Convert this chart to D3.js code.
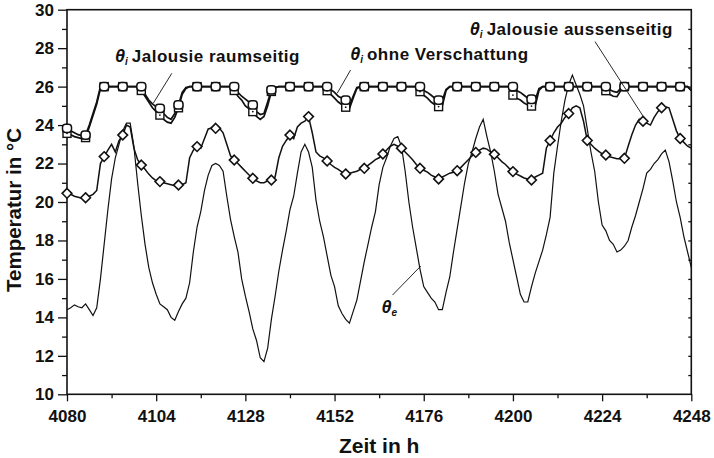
<!DOCTYPE html>
<html>
<head>
<meta charset="utf-8">
<script src="https://cdn.jsdelivr.net/npm/d3@7"></script>
<style>
  body { margin: 0; background: #fff; }
  svg { display: block; }
  text { font-family: "Liberation Sans", Arial, sans-serif; font-weight: bold; fill: #111; }
</style>
</head>
<body>
<svg id="chart" width="714" height="458"></svg>
<script>
// Hourly temperatures, first value at hour 4080
const hourStart = 4080;

// Outdoor air temperature θe
const thetaE = [
  14.4, 14.5, 14.65, 14.55, 14.5, 14.7, 14.4, 14.1, 14.5, 16.0,
  17.8, 19.6, 21.2, 22.3, 23.0, 23.7, 24.1, 24.1, 22.9, 21.0,
  19.3, 17.8, 16.6, 15.8, 15.2, 14.7, 14.55, 14.4, 14.0, 13.85,
  14.3, 14.7, 15.0, 15.8, 17.4, 18.7, 19.5, 20.6, 21.4, 21.9,
  22.0, 21.9, 21.6, 20.3, 19.1, 18.2, 17.4, 16.0, 15.1, 14.3,
  13.4, 12.8, 11.9, 11.7, 12.4, 13.9, 15.1, 16.4, 17.5, 18.5,
  19.6, 20.3, 21.5, 22.6, 23.0, 22.6, 21.8, 20.1, 19.0, 18.2,
  17.2, 16.2, 15.6, 14.6, 14.2, 13.9, 13.7, 14.3, 14.9, 15.9,
  16.9, 17.8, 18.7, 19.5, 20.9, 21.8, 22.3, 22.9, 23.3, 23.4,
  22.9, 21.6, 20.0, 18.7, 17.6, 16.5, 15.6, 15.3, 15.0, 14.8,
  14.4, 14.4, 15.3, 16.1, 17.4, 18.6, 19.8, 21.0, 22.0, 22.6,
  23.3, 23.9, 24.3, 23.4, 22.6, 21.6, 20.4, 19.7, 19.0, 17.9,
  17.0, 16.1, 15.2, 14.8, 14.8, 15.6, 16.3, 16.9, 17.5, 18.3,
  19.2, 21.5, 22.9, 24.2, 25.3, 26.1, 26.6, 26.1, 25.6, 25.0,
  23.8, 22.6, 21.6, 20.0, 18.8, 18.5, 18.0, 17.8, 17.4, 17.5,
  17.7, 18.0, 18.7, 19.3, 20.0, 20.7, 21.5, 21.7, 22.0, 22.2,
  22.5, 22.7, 22.1, 21.1, 20.0, 19.2, 18.2, 17.4, 16.6
];

// Indoor temperature θi, exterior blinds
const jalousieAussen = [
  20.45, 20.4, 20.3, 20.25, 20.2, 20.22, 20.3, 20.4, 20.6, 22.0,
  22.36, 22.7, 23.0, 22.6, 23.2, 23.48, 24.0, 23.9, 22.8, 22.2,
  21.92, 21.7, 21.45, 21.25, 21.1, 21.06, 21.0, 20.95, 20.9, 20.85,
  20.88, 20.9, 21.0, 22.3, 22.7, 22.88, 22.8, 23.3, 23.8, 23.85,
  23.83, 23.85, 23.6, 23.0, 22.4, 22.18, 22.0, 21.8, 21.6, 21.4,
  21.23, 21.1, 21.0, 21.0, 21.1, 21.14, 21.3, 22.3, 22.9, 23.2,
  23.48, 23.3, 23.9, 24.1, 24.2, 24.44, 23.6, 22.6, 22.4, 22.3,
  22.13, 21.95, 21.8, 21.7, 21.55, 21.46, 21.5, 21.55, 21.6, 21.7,
  21.75, 21.9, 22.05, 22.2, 22.3, 22.5, 22.7, 22.9, 23.0, 22.9,
  22.8, 22.6, 22.4, 22.2, 21.95, 21.75, 21.65, 21.55, 21.4, 21.3,
  21.2, 21.3, 21.4, 21.5, 21.55, 21.63, 21.8, 22.0, 22.2, 22.4,
  22.58, 22.7, 22.8, 22.75, 22.6, 22.48, 22.3, 22.1, 21.95, 21.75,
  21.58, 21.45, 21.35, 21.25, 21.2, 21.14, 21.3, 21.4, 21.5, 22.8,
  23.2, 23.6, 23.9, 24.1, 24.4, 24.6, 24.9, 25.0, 24.9, 24.2,
  23.2, 23.0, 22.8, 22.65, 22.5, 22.44, 22.35, 22.3, 22.25, 22.25,
  22.27, 22.9, 23.5, 24.0, 24.3, 24.2, 24.1, 24.0, 24.4, 24.7,
  24.9, 24.95, 24.9, 24.3, 23.7, 23.3, 23.1, 22.9, 22.8
];

// Indoor temperature θi, interior blinds
const jalousieRaum = [
  23.57, 23.5, 23.4, 23.35, 23.3, 23.35, 23.9, 24.5, 25.1, 25.9,
  26.0, 26.0, 26.0, 26.0, 26.0, 26.0, 26.0, 26.0, 26.0, 26.0,
  25.8, 25.5, 25.2, 24.9, 24.7, 24.52, 24.3, 24.15, 24.1, 24.4,
  24.9, 25.6, 25.9, 26.0, 26.0, 26.0, 26.0, 26.0, 26.0, 26.0,
  26.0, 26.0, 26.0, 26.0, 26.0, 25.8, 25.5, 25.3, 25.0, 24.85,
  24.7, 24.45, 24.3, 24.45, 25.0, 25.75, 25.95, 26.0, 26.0, 26.0,
  26.0, 26.0, 26.0, 26.0, 26.0, 26.0, 26.0, 26.0, 26.0, 26.0,
  25.79, 25.6, 25.4, 25.2, 25.05, 24.93, 24.85, 25.4, 25.9, 26.0,
  26.0, 26.0, 26.0, 26.0, 26.0, 26.0, 26.0, 26.0, 26.0, 26.0,
  26.0, 26.0, 26.0, 26.0, 26.0, 25.74, 25.55, 25.4, 25.2, 25.05,
  24.96, 25.0, 25.8, 26.0, 26.0, 26.0, 26.0, 26.0, 26.0, 26.0,
  26.0, 26.0, 26.0, 26.0, 26.0, 26.0, 26.0, 26.0, 26.0, 26.0,
  25.56, 25.4, 25.3, 25.15, 25.05, 24.99, 25.0, 25.8, 26.0, 26.0,
  26.0, 26.0, 26.0, 26.0, 26.0, 26.0, 26.0, 26.0, 26.0, 26.0,
  26.0, 26.0, 26.0, 26.0, 26.0, 25.79, 25.6, 25.5, 25.48, 25.8,
  26.0, 26.0, 26.0, 26.0, 26.0, 26.0, 26.0, 26.0, 26.0, 26.0,
  26.0, 26.0, 26.0, 26.0, 26.0, 26.0, 26.0, 26.0, 25.8
];

// Indoor temperature θi, no shading
const ohneVerschattung = [
  23.83, 23.7, 23.6, 23.5, 23.45, 23.48, 24.0, 24.6, 25.2, 26.0,
  26.0, 26.0, 26.0, 26.0, 26.0, 26.0, 26.0, 26.0, 26.0, 26.0,
  26.0, 25.6, 25.3, 25.1, 24.95, 24.87, 24.6, 24.4, 24.3, 24.6,
  25.05, 25.7, 25.95, 26.0, 26.0, 26.0, 26.0, 26.0, 26.0, 26.0,
  26.0, 26.0, 26.0, 26.0, 26.0, 26.0, 25.7, 25.5, 25.35, 25.2,
  25.05, 24.7, 24.55, 24.6, 25.2, 25.83, 25.95, 26.0, 26.0, 26.0,
  26.0, 26.0, 26.0, 26.0, 26.0, 26.0, 26.0, 26.0, 26.0, 26.0,
  26.0, 25.85, 25.7, 25.5, 25.4, 25.3, 25.0, 25.5, 25.95, 26.0,
  26.0, 26.0, 26.0, 26.0, 26.0, 26.0, 26.0, 26.0, 26.0, 26.0,
  26.0, 26.0, 26.0, 26.0, 26.0, 26.0, 25.8, 25.7, 25.55, 25.4,
  25.3, 25.3, 25.85, 26.0, 26.0, 26.0, 26.0, 26.0, 26.0, 26.0,
  26.0, 26.0, 26.0, 26.0, 26.0, 26.0, 26.0, 26.0, 26.0, 26.0,
  26.0, 25.8, 25.7, 25.55, 25.4, 25.34, 25.3, 25.9, 26.0, 26.0,
  26.0, 26.0, 26.0, 26.0, 26.0, 26.0, 26.0, 26.0, 26.0, 26.0,
  26.0, 26.0, 26.0, 26.0, 26.0, 26.0, 25.85, 25.75, 25.7, 25.9,
  26.0, 26.0, 26.0, 26.0, 26.0, 26.0, 26.0, 26.0, 26.0, 26.0,
  26.0, 26.0, 26.0, 26.0, 26.0, 26.0, 26.0, 26.0, 25.8
];

// Axis ticks
const xTickLabels = [4080, 4104, 4128, 4152, 4176, 4200, 4224, 4248];
const xMinorTicks = [4092, 4116, 4140, 4164, 4188, 4212, 4236];
const yTickLabels = [10, 12, 14, 16, 18, 20, 22, 24, 26, 28, 30];
const yMinorTicks = [11, 13, 15, 17, 19, 21, 23, 25, 27, 29];
const yRightTicks = [11, 12, 13, 14, 15, 16, 17, 18, 19, 20, 21, 22, 23, 24, 25, 26, 27, 28, 29];

// Symbols are drawn on every 5th hourly value
const markerStep = 5;

const svg = d3.select("#chart");
const plot = { left: 67, right: 691.3, top: 9.7, bottom: 394.3 };

const x = d3.scaleLinear().domain([4080, 4248]).range([plot.left, plot.right]);
const y = d3.scaleLinear().domain([10, 30]).range([plot.bottom, plot.top]);

const toPoints = arr => arr.map((v, i) => ({ h: hourStart + i, v }));
const line = d3.line().x(d => x(d.h)).y(d => y(d.v));
const ink = "#111";

// ---- axes ----
// bottom axis, ticks pointing outward
const xAxis = svg.append("g").attr("transform", `translate(0,${plot.bottom})`);
xAxis.call(d3.axisBottom(x).tickValues(xTickLabels).tickSize(7).tickPadding(9).tickFormat(d3.format("d")));
xAxis.append("g").call(d3.axisBottom(x).tickValues(xMinorTicks).tickSize(4).tickFormat(""));

// left axis, ticks pointing outward
const yAxis = svg.append("g").attr("transform", `translate(${plot.left},0)`);
yAxis.call(d3.axisLeft(y).tickValues(yTickLabels).tickSize(9).tickPadding(4).tickFormat(d3.format("d")));
yAxis.append("g").call(d3.axisLeft(y).tickValues(yMinorTicks).tickSize(5).tickFormat(""));

// right axis, short inward ticks, no labels
const yRight = svg.append("g").attr("transform", `translate(${plot.right},0)`);
yRight.call(d3.axisLeft(y).tickValues(yRightTicks).tickSize(3).tickFormat(""));

// the frame is drawn as one closed box instead of the axis domain paths
svg.selectAll(".domain").remove();
svg.selectAll(".tick line").attr("stroke", ink).attr("stroke-width", 1.3);
svg.selectAll(".tick text").attr("fill", ink)
  .style("font-family", '"Liberation Sans", Arial, sans-serif')
  .style("font-weight", "bold").style("font-size", "17px");

svg.append("rect")
  .attr("x", plot.left).attr("y", plot.top)
  .attr("width", plot.right - plot.left).attr("height", plot.bottom - plot.top)
  .attr("fill", "none").attr("stroke", ink).attr("stroke-width", 1.6);

// axis titles
svg.append("text")
  .attr("x", (plot.left + plot.right) / 2).attr("y", 453)
  .attr("text-anchor", "middle").style("font-size", "21px")
  .text("Zeit in h");
svg.append("text")
  .attr("transform", `translate(21,210) rotate(-90)`)
  .attr("text-anchor", "middle").style("font-size", "20.5px")
  .text("Temperatur in °C");

// ---- series ----
const series = svg.append("g");

series.append("path").datum(toPoints(thetaE))
  .attr("d", line).attr("fill", "none").attr("stroke", ink).attr("stroke-width", 1.2);

const aussenPts = toPoints(jalousieAussen);
const raumPts = toPoints(jalousieRaum);
const ohnePts = toPoints(ohneVerschattung);

series.append("path").datum(aussenPts)
  .attr("d", line).attr("fill", "none").attr("stroke", ink).attr("stroke-width", 1.5);
series.append("path").datum(raumPts)
  .attr("d", line).attr("fill", "none").attr("stroke", ink).attr("stroke-width", 1.7);
series.append("path").datum(ohnePts)
  .attr("d", line).attr("fill", "none").attr("stroke", ink).attr("stroke-width", 1.7);

const every = pts => pts.filter((d, i) => i % markerStep === 0);

// diamonds: exterior blinds
series.append("g").selectAll("path").data(every(aussenPts)).join("path")
  .attr("transform", d => `translate(${x(d.h)},${y(d.v)})`)
  .attr("d", d3.symbol(d3.symbolDiamond2, 60))
  .attr("fill", "#fff").attr("stroke", ink).attr("stroke-width", 1.6);

// squares with centre dot: interior blinds
const sq = series.append("g").selectAll("g").data(every(raumPts)).join("g")
  .attr("transform", d => `translate(${x(d.h)},${y(d.v)})`);
sq.append("rect").attr("x", -4).attr("y", -4).attr("width", 8).attr("height", 8)
  .attr("fill", "#fff").attr("stroke", ink).attr("stroke-width", 1.4);
sq.append("circle").attr("r", 0.9).attr("fill", ink);

// rounded symbols: no shading
series.append("g").selectAll("rect").data(every(ohnePts)).join("rect")
  .attr("x", d => x(d.h) - 4.5).attr("y", d => y(d.v) - 4.2)
  .attr("width", 9).attr("height", 8.4).attr("rx", 3.2)
  .attr("fill", "#fff").attr("stroke", ink).attr("stroke-width", 1.5);

// ---- annotations ----
const leaders = [
  [[4108.2, 26.69], [4103.2, 25.13]],
  [[4156.3, 26.86], [4152.7, 25.65]],
  [[4222.1, 28.34], [4235.1, 24.44]],
  [[4167.6, 15.16], [4175.2, 16.67]]
];
svg.append("g").selectAll("line").data(leaders).join("line")
  .attr("x1", d => x(d[0][0])).attr("y1", d => y(d[0][1]))
  .attr("x2", d => x(d[1][0])).attr("y2", d => y(d[1][1]))
  .attr("stroke", ink).attr("stroke-width", 0.9);

const labels = [
  { h: 4092.9, t: 27.28, sub: "i", text: "Jalousie raumseitig" },
  { h: 4156.2, t: 27.38, sub: "i", text: "ohne Verschattung" },
  { h: 4188.4, t: 28.68, sub: "i", text: "Jalousie aussenseitig" },
  { h: 4164.6, t: 14.23, sub: "e", text: "" }
];
const lab = svg.append("g").selectAll("text").data(labels).join("text")
  .attr("x", d => x(d.h)).attr("y", d => y(d.t))
  .style("font-size", "17px");
lab.append("tspan").style("font-style", "italic").style("font-size", "18px").text("θ");
lab.append("tspan").attr("dy", 3).style("font-style", "italic").style("font-size", "10px").text(d => d.sub);
lab.append("tspan").attr("dy", -3).attr("dx", 4).style("letter-spacing", "0.5px").text(d => d.text);
</script>
</body>
</html>
